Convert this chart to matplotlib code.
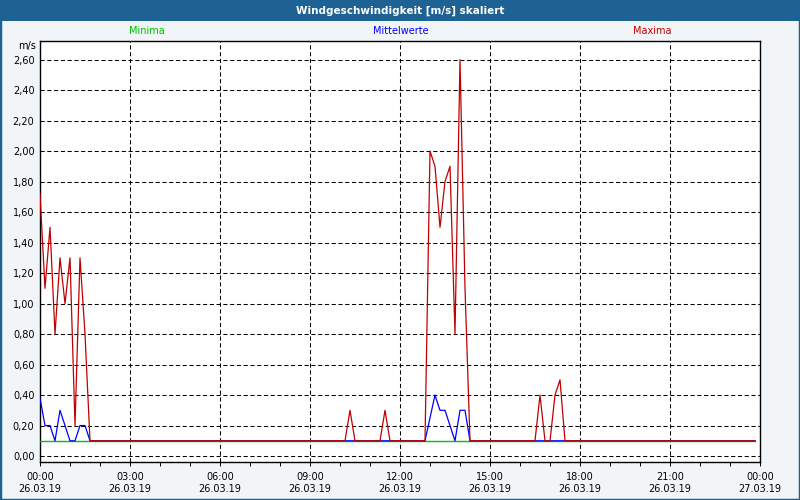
import numpy as np
import pandas as pd
import matplotlib
matplotlib.use("Agg")
import matplotlib.pyplot as plt
import matplotlib.dates as mdates
from matplotlib.patches import Rectangle

plt.rcParams['font.family'] = ['DejaVu Sans']

# 10-minute values, 26.03.19 00:00 .. 23:50 (one row per hour)
times = pd.date_range('2019-03-26 00:00', periods=144, freq='10min')

maxima = [
    1.72, 1.10, 1.50, 0.80, 1.30, 1.00,  # 00
    1.30, 0.20, 1.30, 0.80, 0.10, 0.10,  # 01
    0.10, 0.10, 0.10, 0.10, 0.10, 0.10,  # 02
    0.10, 0.10, 0.10, 0.10, 0.10, 0.10,  # 03
    0.10, 0.10, 0.10, 0.10, 0.10, 0.10,  # 04
    0.10, 0.10, 0.10, 0.10, 0.10, 0.10,  # 05
    0.10, 0.10, 0.10, 0.10, 0.10, 0.10,  # 06
    0.10, 0.10, 0.10, 0.10, 0.10, 0.10,  # 07
    0.10, 0.10, 0.10, 0.10, 0.10, 0.10,  # 08
    0.10, 0.10, 0.10, 0.10, 0.10, 0.10,  # 09
    0.10, 0.10, 0.30, 0.10, 0.10, 0.10,  # 10
    0.10, 0.10, 0.10, 0.30, 0.10, 0.10,  # 11
    0.10, 0.10, 0.10, 0.10, 0.10, 0.10,  # 12
    2.00, 1.90, 1.50, 1.80, 1.90, 0.80,  # 13
    2.60, 1.10, 0.10, 0.10, 0.10, 0.10,  # 14
    0.10, 0.10, 0.10, 0.10, 0.10, 0.10,  # 15
    0.10, 0.10, 0.10, 0.10, 0.40, 0.10,  # 16
    0.10, 0.40, 0.50, 0.10, 0.10, 0.10,  # 17
    0.10, 0.10, 0.10, 0.10, 0.10, 0.10,  # 18
    0.10, 0.10, 0.10, 0.10, 0.10, 0.10,  # 19
    0.10, 0.10, 0.10, 0.10, 0.10, 0.10,  # 20
    0.10, 0.10, 0.10, 0.10, 0.10, 0.10,  # 21
    0.10, 0.10, 0.10, 0.10, 0.10, 0.10,  # 22
    0.10, 0.10, 0.10, 0.10, 0.10, 0.10,  # 23
]

mittel = [
    0.38, 0.20, 0.20, 0.10, 0.30, 0.20,  # 00
    0.10, 0.10, 0.20, 0.20, 0.10, 0.10,  # 01
    0.10, 0.10, 0.10, 0.10, 0.10, 0.10,  # 02
    0.10, 0.10, 0.10, 0.10, 0.10, 0.10,  # 03
    0.10, 0.10, 0.10, 0.10, 0.10, 0.10,  # 04
    0.10, 0.10, 0.10, 0.10, 0.10, 0.10,  # 05
    0.10, 0.10, 0.10, 0.10, 0.10, 0.10,  # 06
    0.10, 0.10, 0.10, 0.10, 0.10, 0.10,  # 07
    0.10, 0.10, 0.10, 0.10, 0.10, 0.10,  # 08
    0.10, 0.10, 0.10, 0.10, 0.10, 0.10,  # 09
    0.10, 0.10, 0.10, 0.10, 0.10, 0.10,  # 10
    0.10, 0.10, 0.10, 0.10, 0.10, 0.10,  # 11
    0.10, 0.10, 0.10, 0.10, 0.10, 0.10,  # 12
    0.25, 0.40, 0.30, 0.30, 0.20, 0.10,  # 13
    0.30, 0.30, 0.10, 0.10, 0.10, 0.10,  # 14
    0.10, 0.10, 0.10, 0.10, 0.10, 0.10,  # 15
    0.10, 0.10, 0.10, 0.10, 0.10, 0.10,  # 16
    0.10, 0.10, 0.10, 0.10, 0.10, 0.10,  # 17
    0.10, 0.10, 0.10, 0.10, 0.10, 0.10,  # 18
    0.10, 0.10, 0.10, 0.10, 0.10, 0.10,  # 19
    0.10, 0.10, 0.10, 0.10, 0.10, 0.10,  # 20
    0.10, 0.10, 0.10, 0.10, 0.10, 0.10,  # 21
    0.10, 0.10, 0.10, 0.10, 0.10, 0.10,  # 22
    0.10, 0.10, 0.10, 0.10, 0.10, 0.10,  # 23
]

minima = [
    0.10, 0.10, 0.10, 0.10, 0.10, 0.10,  # 00
    0.10, 0.10, 0.10, 0.10, 0.10, 0.10,  # 01
    0.10, 0.10, 0.10, 0.10, 0.10, 0.10,  # 02
    0.10, 0.10, 0.10, 0.10, 0.10, 0.10,  # 03
    0.10, 0.10, 0.10, 0.10, 0.10, 0.10,  # 04
    0.10, 0.10, 0.10, 0.10, 0.10, 0.10,  # 05
    0.10, 0.10, 0.10, 0.10, 0.10, 0.10,  # 06
    0.10, 0.10, 0.10, 0.10, 0.10, 0.10,  # 07
    0.10, 0.10, 0.10, 0.10, 0.10, 0.10,  # 08
    0.10, 0.10, 0.10, 0.10, 0.10, 0.10,  # 09
    0.10, 0.10, 0.10, 0.10, 0.10, 0.10,  # 10
    0.10, 0.10, 0.10, 0.10, 0.10, 0.10,  # 11
    0.10, 0.10, 0.10, 0.10, 0.10, 0.10,  # 12
    0.10, 0.10, 0.10, 0.10, 0.10, 0.10,  # 13
    0.10, 0.10, 0.10, 0.10, 0.10, 0.10,  # 14
    0.10, 0.10, 0.10, 0.10, 0.10, 0.10,  # 15
    0.10, 0.10, 0.10, 0.10, 0.10, 0.10,  # 16
    0.10, 0.10, 0.10, 0.10, 0.10, 0.10,  # 17
    0.10, 0.10, 0.10, 0.10, 0.10, 0.10,  # 18
    0.10, 0.10, 0.10, 0.10, 0.10, 0.10,  # 19
    0.10, 0.10, 0.10, 0.10, 0.10, 0.10,  # 20
    0.10, 0.10, 0.10, 0.10, 0.10, 0.10,  # 21
    0.10, 0.10, 0.10, 0.10, 0.10, 0.10,  # 22
    0.10, 0.10, 0.10, 0.10, 0.10, 0.10,  # 23
]

yticks = [0.0, 0.2, 0.4, 0.6, 0.8, 1.0, 1.2, 1.4, 1.6, 1.8, 2.0, 2.2, 2.4, 2.6]

title = 'Windgeschwindigkeit [m/s] skaliert'
bar_col = '#1D6293'
bg_col = '#F2F5F8'
green = '#00C000'

W, H = 800, 500
fig = plt.figure(figsize=(8, 5), dpi=100, facecolor=bg_col)
# plot area in pixels: x 40..760, y 40.5..462 (from top)
ax = fig.add_axes([40 / W, 1 - 462 / H, 720 / W, (462 - 40.5) / H])
ax.set_facecolor('white')

ax.plot(times, minima, color=green, lw=1.0, zorder=3)
ax.plot(times, mittel, color='#0000FF', lw=0.9, zorder=4)
ax.plot(times, maxima, color='#C00000', lw=0.9, zorder=5)

ax.set_xlim(pd.Timestamp('2019-03-26 00:00'), pd.Timestamp('2019-03-27 00:00'))
ax.set_ylim(-0.039, 2.725)

ax.set_yticks(yticks)
ax.set_yticklabels(['{:.2f}'.format(v).replace('.', ',') for v in yticks], fontsize=7)
ax.xaxis.set_major_locator(mdates.HourLocator(byhour=range(0, 24, 3)))
ax.xaxis.set_minor_locator(mdates.HourLocator())
ax.xaxis.set_major_formatter(mdates.DateFormatter('%H:%M\n%d.%m.%y'))
for lab in ax.get_xticklabels():
    lab.set_linespacing(1.3)
ax.tick_params(axis='x', which='both', length=3, width=0.7, direction='out', labelsize=7, pad=4)
ax.tick_params(axis='y', length=0, pad=4)

ax.grid(True, which='major', color='black', lw=0.75, linestyle=(0, (4, 2.5)), zorder=1)
for s in ax.spines.values():
    s.set_color('black')
    s.set_linewidth(1.0)

# title bar and frame
fig.patches.append(Rectangle((0, 1 - 21 / H), 1, 21 / H, transform=fig.transFigure,
                             facecolor=bar_col, edgecolor='none', zorder=0))
fig.patches.append(Rectangle((0, 0), 1, 1, transform=fig.transFigure, fill=False,
                             edgecolor=bar_col, lw=2.5, zorder=0))
fig.text(0.5, 1 - 10.5 / H, title, color='white', fontsize=7.5, fontweight='bold',
         ha='center', va='center')

fig.text(147 / W, 1 - 31.5 / H, 'Minima', color=green, fontsize=7, ha='center', va='center')
fig.text(401 / W, 1 - 31.5 / H, 'Mittelwerte', color='#0000FF', fontsize=7, ha='center', va='center')
fig.text(652 / W, 1 - 31.5 / H, 'Maxima', color='#C00000', fontsize=7, ha='center', va='center')
fig.text(36 / W, 1 - 46.5 / H, 'm/s', color='black', fontsize=7, ha='right', va='center')

fig.savefig('out.png', dpi=100, facecolor=bg_col)
